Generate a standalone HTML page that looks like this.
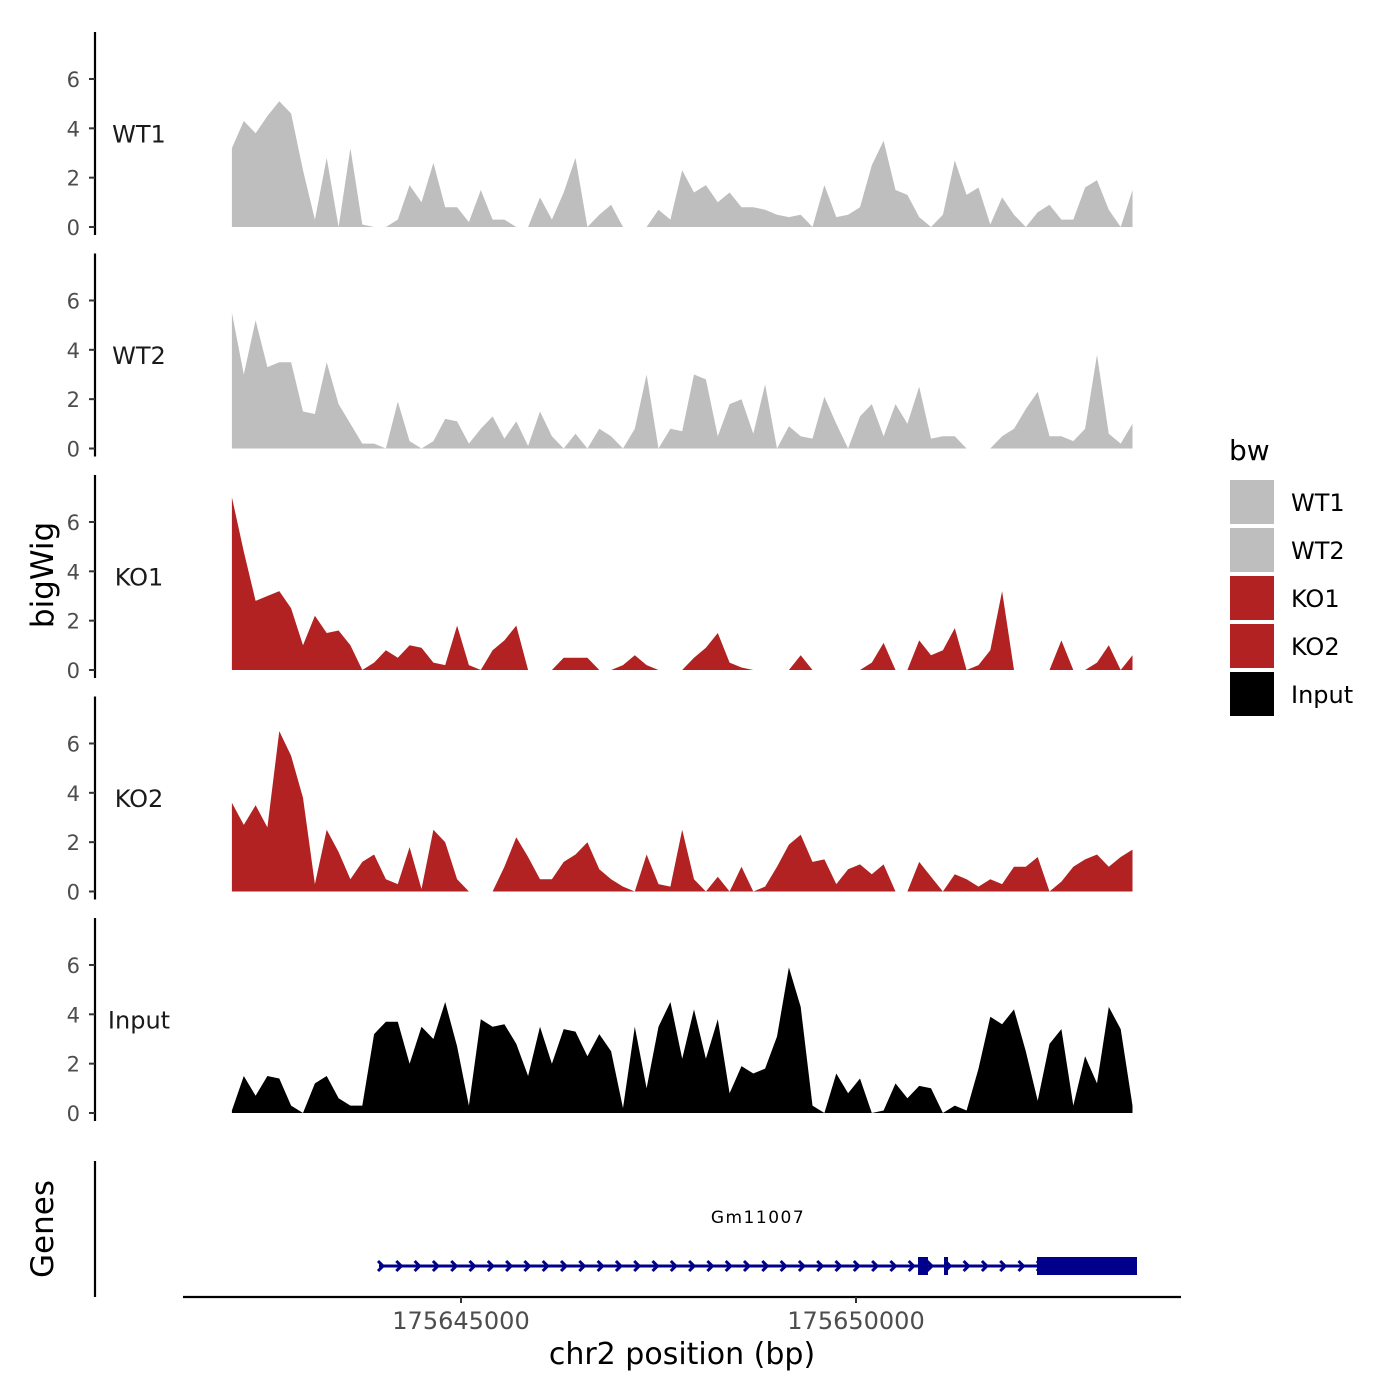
<!DOCTYPE html>
<html><head><meta charset="utf-8"><style>
html,body{margin:0;padding:0;background:#fff;}
svg{display:block;font-family:"DejaVu Sans","Liberation Sans",sans-serif;}
</style></head><body>
<svg id="chart" width="1400" height="1400" viewBox="0 0 1400 1400"></svg>
<script>
const START_BP = 175642100;
const STEP_BP = 150;
const trackNames = ["WT1","WT2","KO1","KO2","Input"];
const trackColors = ["#bebebe","#bebebe","#b22222","#b22222","#000000"];
const wt1 = [3.2,4.3,3.8,4.5,5.1,4.6,2.3,0.3,2.8,0,3.2,0.1,0,0,0.3,1.7,1.0,2.6,0.8,0.8,0.2,1.5,0.3,0.3,0,0,1.2,0.3,1.4,2.8,0,0.5,0.9,0,0,0,0.7,0.3,2.3,1.4,1.7,1.0,1.4,0.8,0.8,0.7,0.5,0.4,0.5,0,1.7,0.4,0.5,0.8,2.5,3.5,1.5,1.3,0.4,0,0.5,2.7,1.3,1.6,0.1,1.2,0.5,0,0.6,0.9,0.3,0.3,1.6,1.9,0.7,0,1.5];
const wt2 = [5.5,3.0,5.2,3.3,3.5,3.5,1.5,1.4,3.5,1.8,1.0,0.2,0.2,0,1.9,0.3,0,0.3,1.2,1.1,0.2,0.8,1.3,0.4,1.1,0.1,1.5,0.5,0,0.6,0,0.8,0.5,0,0.8,3.0,0,0.8,0.7,3.0,2.8,0.5,1.8,2.0,0.6,2.6,0,0.9,0.5,0.4,2.1,1.0,0,1.3,1.8,0.5,1.8,1.0,2.5,0.4,0.5,0.5,0,0,0,0.5,0.8,1.6,2.3,0.5,0.5,0.3,0.8,3.8,0.6,0.2,1.0];
const ko1 = [7.0,4.8,2.8,3.0,3.2,2.5,1.0,2.2,1.5,1.6,1.0,0,0.3,0.8,0.5,1.0,0.9,0.3,0.2,1.8,0.2,0,0.8,1.2,1.8,0,0,0,0.5,0.5,0.5,0,0,0.2,0.6,0.2,0,0,0,0.5,0.9,1.5,0.3,0.1,0,0,0,0,0.6,0,0,0,0,0,0.3,1.1,0,0,1.2,0.6,0.8,1.7,0,0.2,0.8,3.2,0,0,0,0,1.2,0,0,0.3,1.0,0,0.6];
const ko2 = [3.6,2.7,3.5,2.6,6.5,5.5,3.8,0.3,2.5,1.6,0.5,1.2,1.5,0.5,0.3,1.8,0.1,2.5,2.0,0.5,0,0,0,1.0,2.2,1.4,0.5,0.5,1.2,1.5,2.0,0.9,0.5,0.2,0,1.5,0.3,0.2,2.5,0.5,0,0.6,0,1.0,0,0.2,1.0,1.9,2.3,1.2,1.3,0.3,0.9,1.1,0.7,1.1,0,0,1.2,0.6,0,0.7,0.5,0.2,0.5,0.3,1.0,1.0,1.4,0,0.4,1.0,1.3,1.5,1.0,1.4,1.7];
const input = [0.1,1.5,0.7,1.5,1.4,0.3,0,1.2,1.5,0.6,0.3,0.3,3.2,3.7,3.7,2.0,3.5,3.0,4.5,2.7,0.3,3.8,3.5,3.6,2.8,1.5,3.5,2.0,3.4,3.3,2.3,3.2,2.5,0.2,3.5,1.0,3.5,4.5,2.2,4.2,2.2,3.8,0.8,1.9,1.6,1.8,3.1,5.9,4.3,0.3,0,1.6,0.8,1.4,0,0.1,1.2,0.6,1.1,1.0,0,0.3,0.1,1.8,3.9,3.6,4.2,2.5,0.5,2.8,3.4,0.3,2.3,1.2,4.3,3.4,0.3];
const trackValues = [wt1,wt2,ko1,ko2,input];
const yTicks = [0,2,4,6];
const xTicks = [175645000,175650000];
const xTickLabels = ["175645000","175650000"];
const geneName = "Gm11007";
const geneStart = 175643962, geneEnd = 175653557;
const exonStarts = [175650785,175651114,175652291];
const exonEnds = [175650911,175651165,175653557];

const NS="http://www.w3.org/2000/svg";
const svg=document.getElementById('chart');
function el(tag,attrs,parent){const e=document.createElementNS(NS,tag);for(const k in attrs)e.setAttribute(k,attrs[k]);(parent||svg).appendChild(e);return e;}
function xScale(bp){return 461+(bp-175645000)*0.079;}
const panelZero=[227,448.5,670,891.5,1113];
const unit=24.67;
function yScale(p,v){return panelZero[p]-v*unit;}

for(let p=0;p<5;p++){
  const g=el('g',{});
  
  
  const top=panelZero[p]-195, bot=panelZero[p]+8;
  const ax=el('line',{x1:95,x2:95,y1:top,y2:bot,stroke:'#000','stroke-width':2.2},g);
  
  
  yTicks.forEach(t=>{
    const y=yScale(p,t);
    el('line',{x1:89,x2:95,y1:y,y2:y,stroke:'#333','stroke-width':2},g);
    const tx=el('text',{x:80,y:y+8,'text-anchor':'end','font-size':21,fill:'#4d4d4d'},g);
    tx.textContent=t;
    
    
  });
  const lb=el('text',{x:139,y:yScale(p,3.75)+8,'text-anchor':'middle','font-size':24,fill:'#1a1a1a'},g);
  lb.textContent=trackNames[p];
  
  
  const vals=trackValues[p];
  let d='M'+xScale(START_BP).toFixed(1)+','+yScale(p,0);
  vals.forEach((v,i)=>{d+=' L'+xScale(START_BP+i*STEP_BP).toFixed(1)+','+yScale(p,v).toFixed(1);});
  d+=' L'+xScale(START_BP+(vals.length-1)*STEP_BP).toFixed(1)+','+yScale(p,0)+' Z';
  const area=el('path',{d:d,fill:trackColors[p]},g);
  
  
}

const yt=el('text',{x:0,y:0,'text-anchor':'middle','font-size':31,fill:'#000',transform:'translate(53,575) rotate(-90)'});
yt.textContent='bigWig';



const gg=el('g',{});


el('line',{x1:95,x2:95,y1:1161,y2:1297,stroke:'#000','stroke-width':2.2},gg);
const gt=el('text',{x:0,y:0,'text-anchor':'middle','font-size':31,fill:'#000',transform:'translate(53,1229) rotate(-90)'},gg);
gt.textContent='Genes';


const gn=el('text',{x:758,y:1223,'text-anchor':'middle','font-size':17,'letter-spacing':1.5,fill:'#000'},gg);
gn.textContent=geneName;


const gx1=xScale(geneStart), gx2=xScale(geneEnd);
const gl=el('line',{x1:gx1,x2:gx2,y1:1266,y2:1266,stroke:'#00008b','stroke-width':3},gg);


for(let x=gx1+2;x<gx2-5;x+=18.3){
  el('path',{d:`M${x-3},${1261} L${x+2},${1266} L${x-3},${1271}`,fill:'none',stroke:'#00008b','stroke-width':3},gg);
}
exonStarts.forEach((s,i)=>{
  const r=el('rect',{x:xScale(s),y:1257,width:Math.max(3,xScale(exonEnds[i])-xScale(s)),height:18,fill:'#00008b'},gg);
  
  
});

const xa=el('line',{x1:183,x2:1181,y1:1297,y2:1297,stroke:'#000','stroke-width':2.2});


xTicks.forEach((t,i)=>{
  const x=xScale(t);
  el('line',{x1:x,x2:x,y1:1297,y2:1303,stroke:'#333','stroke-width':2});
  const tx=el('text',{x:x,y:1329,'text-anchor':'middle','font-size':24,fill:'#4d4d4d'});
  tx.textContent=xTickLabels[i];
  
  
});
const xt=el('text',{x:682,y:1364,'text-anchor':'middle','font-size':30,fill:'#000'});
xt.textContent='chr2 position (bp)';



const lg=el('g',{});


const lt=el('text',{x:1229,y:460,'font-size':28,fill:'#000'},lg);
lt.textContent='bw';


trackNames.forEach((n,i)=>{
  const y=480+i*48;
  const r=el('rect',{x:1230,y:y,width:44,height:44,fill:trackColors[i]},lg);
  
  
  const t=el('text',{x:1291,y:y+31,'font-size':24,fill:'#000'},lg);
  t.textContent=n;
  
  
});
</script>
</body></html>
